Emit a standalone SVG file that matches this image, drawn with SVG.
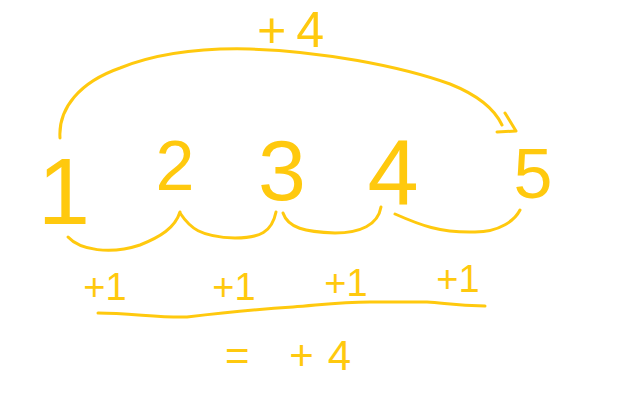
<svg xmlns="http://www.w3.org/2000/svg" width="624" height="402" viewBox="0 0 624 402">
<style>
.s{fill:none;stroke:#FFC90E;stroke-width:3;stroke-linecap:round;stroke-linejoin:round}
.d{font-family:"Liberation Sans",Arial,sans-serif;fill:#FFC90E;text-anchor:middle}
.p{font-family:"Liberation Sans",Arial,sans-serif;fill:#FFC90E;font-size:38px;text-anchor:middle}
</style>
<rect width="624" height="402" fill="#fff"/>
<g id="n1"><text class="d" x="64" y="224" font-size="94">1</text></g>
<g id="n2"><text class="d" x="175" y="190" font-size="70">2</text></g>
<g id="n3"><text class="d" x="282" y="200" font-size="86">3</text></g>
<g id="n4"><text class="d" x="393" y="204" font-size="92">4</text></g>
<g id="n5"><text class="d" x="533" y="198" font-size="70">5</text></g>
<g id="connectors">
<path class="s" d="M60,138 C58,108 80,82 120,68 C160,52 210,48 250,49 C320,51 400,66 450,84 C480,96 495,110 502,125"/>
<path class="s" d="M505,113 L516,131 L497,132"/>
<path class="s" d="M68,237 C80,250 110,255 140,245 C160,237 175,228 180,212"/>
<path class="s" d="M180,213 C190,228 200,237 235,238 C260,238 272,232 276,212"/>
<path class="s" d="M283,213 C288,228 305,232 335,233 C360,233 378,225 381,207"/>
<path class="s" d="M395,214 C420,225 440,233 475,232 C500,232 515,220 520,210"/>
</g>
<text x="257" y="47" font-family="Liberation Sans,Arial,sans-serif" font-size="50" fill="#FFC90E" letter-spacing="10">+4</text>
<g id="labels">
<text class="p" x="105" y="300">+1</text>
<text class="p" x="234" y="300">+1</text>
<text class="p" x="346" y="296">+1</text>
<text class="p" x="458" y="292">+1</text>
</g>
<path class="s" d="M98,313 C130,313 160,318 187,317 C220,313 260,309 293,307 C320,305 340,302 370,302 L427,302 C445,303 455,306 485,306"/>
<text x="225" y="370" font-family="Liberation Sans,Arial,sans-serif" font-size="42" fill="#FFC90E" letter-spacing="14">= +4</text>
</svg>
